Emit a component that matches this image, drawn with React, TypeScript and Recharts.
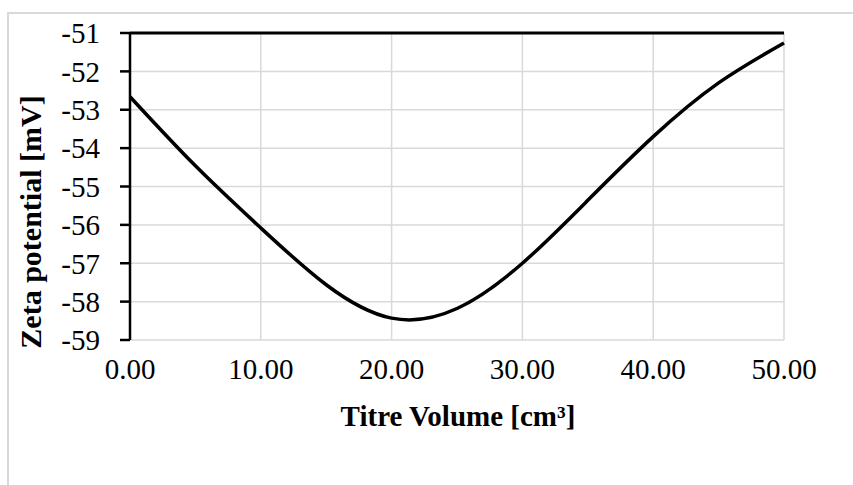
import React from "react";
import {
  LineChart,
  Line,
  XAxis,
  YAxis,
  CartesianGrid,
  ReferenceLine,
} from "recharts";

// titre volume [cm3] and zeta potential [mV]
const volumes = [0, 5, 10, 15, 20, 25, 30, 35, 40, 45, 50];
const zeta = [-52.66, -54.46, -56.08, -57.56, -58.43, -58.18, -57.0, -55.36, -53.7, -52.3, -51.26];

const xTicks = [0, 10, 20, 30, 40, 50];
const yTicks = [-59, -58, -57, -56, -55, -54, -53, -52, -51];

const data = volumes.map((v, i) => ({ volume: v, zeta: zeta[i] }));

const FONT = "'Liberation Serif', 'Times New Roman', serif";

function XTitle() {
  return (
    <text
      x={458}
      y={426}
      textAnchor="middle"
      fontFamily={FONT}
      fontWeight="bold"
      fontSize={29}
      fill="#000"
    >
      Titre Volume [cm³]
    </text>
  );
}

function YTitle() {
  return (
    <text
      x={41}
      y={222}
      transform="rotate(-90, 41, 222)"
      textAnchor="middle"
      fontFamily={FONT}
      fontWeight="bold"
      fontSize={30}
      fill="#000"
    >
      Zeta potential [mV]
    </text>
  );
}

export default function App() {
  return (
    <div
      style={{
        position: "absolute",
        left: 0,
        top: 0,
        width: 853,
        height: 485,
        overflow: "hidden",
        background: "#fff",
      }}
    >
      <div
        style={{
          position: "absolute",
          left: 7,
          top: 12,
          width: 900,
          height: 600,
          border: "2px solid #d9d9d9",
        }}
      />
      <div style={{ position: "absolute", left: 0, top: 0 }}>
        <LineChart
          width={853}
          height={485}
          data={data}
          margin={{ top: 33, right: 69, left: 30, bottom: 105 }}
        >
          <CartesianGrid stroke="#d9d9d9" strokeWidth={1.5} />
          <XAxis
            dataKey="volume"
            type="number"
            domain={[0, 50]}
            ticks={xTicks}
            tickFormatter={(v: number) => v.toFixed(2)}
            axisLine={false}
            tickLine={false}
            tickSize={0}
            tickMargin={18}
            height={40}
            interval={0}
            tick={{ fill: "#000", fontSize: 29, fontFamily: FONT }}
            label={<XTitle />}
          />
          <YAxis
            type="number"
            domain={[-59, -51]}
            ticks={yTicks}
            interval={0}
            width={100}
            axisLine={{ stroke: "#000", strokeWidth: 2.5 }}
            tickLine={{ stroke: "#000", strokeWidth: 2.5 }}
            tickSize={10}
            tickMargin={20}
            tick={{ fill: "#000", fontSize: 29, fontFamily: FONT }}
            label={<YTitle />}
          />
          <ReferenceLine y={-51} stroke="#000" strokeWidth={3} />
          <Line
            type="natural"
            dataKey="zeta"
            stroke="#000"
            strokeWidth={3.5}
            dot={false}
            isAnimationActive={false}
          />
        </LineChart>
      </div>
    </div>
  );
}
